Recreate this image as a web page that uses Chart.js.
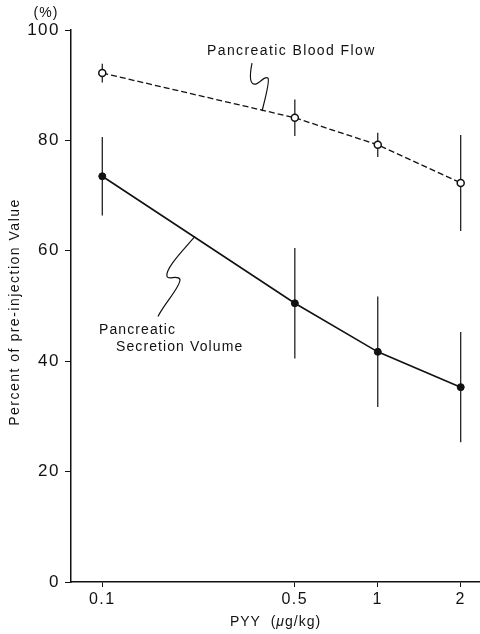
<!DOCTYPE html>
<html>
<head>
<meta charset="utf-8">
<script src="https://cdn.jsdelivr.net/npm/chart.js@4"></script>
<style>
  body { margin: 0; background: #fff; }
  .wrap { width: 480px; height: 634px; }
</style>
</head>
<body>
<div class="wrap"><canvas class="graph"></canvas></div>
<script>
let doses = [0.1, 0.5, 1, 2];
let doseTicks = [0.1, 0.5, 1, 2];
let bloodFlow = [92.2, 84.1, 79.2, 72.3];
let bloodFlowErr = [1.7, 3.3, 2.2, 8.7];
let secretion = [73.5, 50.5, 41.7, 35.3];
let secretionErr = [7.1, 10, 10, 10];
let errs = [bloodFlowErr, secretionErr];

// where the label leaders touch the curves (data units)
let bloodNote = { x: 0.38, y: 85.3 };
let secretionNote = { x: 0.217, y: 62.6 };

const FONT = "'Liberation Sans', Arial, sans-serif";

const errorBars = {
  id: "errorBars",
  beforeDatasetsDraw(chart) {
    const ctx = chart.ctx;
    const xs = chart.scales.x, ys = chart.scales.y;
    ctx.save();
    ctx.strokeStyle = "#111";
    ctx.lineWidth = 1.2;
    chart.data.datasets.forEach((ds, d) => {
      ds.data.forEach((p, i) => {
        const px = xs.getPixelForValue(p.x);
        ctx.beginPath();
        ctx.moveTo(px, ys.getPixelForValue(p.y + errs[d][i]));
        ctx.lineTo(px, ys.getPixelForValue(p.y - errs[d][i]));
        ctx.stroke();
      });
    });
    ctx.restore();
  },
};

function drawParts(ctx, parts, cx, y) {
  let widths = parts.map((p) => {
    ctx.font = p.font;
    return ctx.measureText(p.text).width;
  });
  let x = cx - widths.reduce((a, b) => a + b, 0) / 2;
  parts.forEach((p, i) => {
    ctx.font = p.font;
    ctx.fillText(p.text, x, y);
    x += widths[i];
  });
}

const notes = {
  id: "notes",
  beforeDraw(chart) {
    chart.ctx.letterSpacing = "1.5px";
  },
  afterDraw(chart) {
    const ctx = chart.ctx;
    const xs = chart.scales.x, ys = chart.scales.y;
    const area = chart.chartArea;
    ctx.save();
    ctx.fillStyle = "#111";
    ctx.strokeStyle = "#111";
    ctx.lineWidth = 1.2;
    ctx.textAlign = "left";
    ctx.textBaseline = "alphabetic";

    // blood flow label + leader
    let bx = xs.getPixelForValue(bloodNote.x), by = ys.getPixelForValue(bloodNote.y);
    ctx.beginPath();
    ctx.moveTo(bx - 10, by - 48);
    ctx.bezierCurveTo(bx - 12, by - 38, bx - 13, by - 28, bx - 8, by - 27);
    ctx.bezierCurveTo(bx - 3, by - 26, bx + 2, by - 36, bx + 6, by - 33);
    ctx.bezierCurveTo(bx + 8, by - 30, bx + 3, by - 12, bx, by);
    ctx.stroke();
    ctx.letterSpacing = "1.4px";
    ctx.font = "14px " + FONT;
    ctx.fillText("Pancreatic Blood Flow", bx - 55, by - 56);

    // secretion label + leader
    let sx = xs.getPixelForValue(secretionNote.x), sy = ys.getPixelForValue(secretionNote.y);
    ctx.beginPath();
    ctx.moveTo(sx, sy);
    ctx.bezierCurveTo(sx - 12, sy + 14, sx - 30, sy + 32, sx - 28, sy + 40);
    ctx.bezierCurveTo(sx - 27, sy + 44, sx - 17, sy + 38, sx - 15, sy + 43);
    ctx.bezierCurveTo(sx - 14, sy + 50, sx - 30, sy + 66, sx - 37, sy + 80);
    ctx.stroke();
    ctx.letterSpacing = "1.1px";
    ctx.fillText("Pancreatic", sx - 96, sy + 98);
    ctx.fillText("Secretion Volume", sx - 79, sy + 115);

    // axis titles
    ctx.letterSpacing = "1px";
    ctx.font = "14px " + FONT;
    ctx.textAlign = "center";
    ctx.fillText("(%)", 46, 17);

    ctx.textAlign = "left";
    drawParts(ctx, [
      { text: "PYY  (", font: "14px " + FONT },
      { text: "\u03bc", font: "italic 14px " + FONT },
      { text: "g/kg)", font: "14px " + FONT },
    ], (area.left + area.right) / 2, 626);

    ctx.save();
    ctx.translate(15, (area.top + area.bottom) / 2 + 6);
    ctx.rotate(-Math.PI / 2);
    ctx.textAlign = "center";
    ctx.textBaseline = "middle";
    ctx.letterSpacing = "1.5px";
    ctx.font = "14px " + FONT;
    ctx.fillText("Percent of pre-injection Value", 0, 0);
    ctx.restore();

    ctx.restore();
    ctx.letterSpacing = "0px";
  },
};

const graph = new Chart(document.querySelector(".graph"), {
  type: "scatter",
  data: {
    datasets: [
      {
        label: "Pancreatic Blood Flow",
        data: doses.map((d, i) => ({ x: d, y: bloodFlow[i] })),
        showLine: true,
        borderColor: "#111",
        borderWidth: 1.3,
        borderDash: [6, 3],
        pointRadius: 3.5,
        pointBorderWidth: 1.5,
        pointBackgroundColor: "#fff",
        pointBorderColor: "#111",
      },
      {
        label: "Pancreatic Secretion Volume",
        data: doses.map((d, i) => ({ x: d, y: secretion[i] })),
        showLine: true,
        borderColor: "#111",
        borderWidth: 1.6,
        pointRadius: 3.5,
        pointBorderWidth: 1,
        pointBackgroundColor: "#111",
        pointBorderColor: "#111",
      },
    ],
  },
  options: {
    responsive: true,
    maintainAspectRatio: false,
    animation: false,
    layout: { autoPadding: false, padding: { top: 30, right: 0, bottom: 0, left: 0 } },
    plugins: {
      legend: { display: false },
      tooltip: { enabled: false },
    },
    scales: {
      x: {
        type: "logarithmic",
        min: 0.077,
        max: 2.35,
        afterBuildTicks: (scale) => {
          scale.ticks = doseTicks.map((v) => ({ value: v }));
        },
        afterFit: (scale) => {
          scale.height = 52;
          scale.paddingLeft = 0;
          scale.paddingRight = 0;
        },
        ticks: {
          autoSkip: false,
          maxRotation: 0,
          padding: 3,
          color: "#111",
          font: { family: FONT, size: 16 },
          callback: (v) => String(v),
        },
        grid: {
          drawOnChartArea: false,
          drawTicks: true,
          tickLength: 5,
          color: "#111",
        },
        border: { display: true, color: "#111", width: 1.5 },
      },
      y: {
        min: 0,
        max: 100,
        afterFit: (scale) => {
          scale.width = 71;
        },
        ticks: {
          stepSize: 20,
          padding: 5,
          color: "#111",
          font: { family: FONT, size: 17 },
        },
        grid: {
          drawOnChartArea: false,
          drawTicks: true,
          tickLength: 6,
          color: "#111",
        },
        border: { display: true, color: "#111", width: 1.5 },
      },
    },
  },
  plugins: [errorBars, notes],
});
</script>
</body>
</html>
